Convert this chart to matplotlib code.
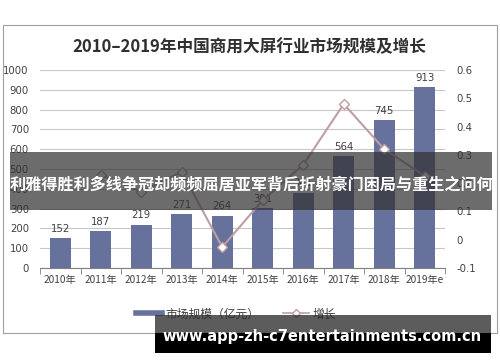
import matplotlib
matplotlib.use("Agg")
import matplotlib.pyplot as plt
from matplotlib.lines import Line2D
from matplotlib.patches import Rectangle

plt.rcParams['font.family'] = ['Noto Sans CJK SC', 'DejaVu Sans']

categories = ["2010年", "2011年", "2012年", "2013年", "2014年", "2015年",
              "2016年", "2017年", "2018年", "2019年e"]
market_size = [152, 187, 219, 271, 264, 301, 381, 564, 745, 913]
growth = [None, 0.23, 0.17, 0.24, -0.026, 0.14, 0.265, 0.48, 0.32, 0.225]
left_ticks = [0, 100, 200, 300, 400, 500, 600, 700, 800, 900, 1000]
right_ticks = [-0.1, 0, 0.1, 0.2, 0.3, 0.4, 0.5, 0.6]
title = "2010–2019年中国商用大屏行业市场规模及增长"
banner = "利雅得胜利多线争冠却频频屈居亚军背后折射豪门困局与重生之问何"
watermark = "www.app-zh-c7entertainments.com.cn"

bar_color = "#67729c"
line_color = "#bf9ea3"
txt = "#404040"

fig = plt.figure(figsize=(5, 3.62), dpi=100)
W, H = 500, 362
def fx(x): return x / W
def fy(y): return 1 - y / H

# outer border
fig.patches.append(Rectangle((fx(3), fy(333)), fx(494), 308 / H, transform=fig.transFigure,
                             fill=False, edgecolor="#a0a0a0", lw=0.8, zorder=0))

ax = fig.add_axes([fx(40), fy(268), fx(405), 198 / H])
x = list(range(len(categories)))
ax.bar(x, market_size, width=0.52, color=bar_color, zorder=2)
for xi, v in zip(x, market_size):
    ax.text(xi, v + 22, str(v), ha="center", va="bottom", fontsize=7.3, color=txt,
            family="DejaVu Sans")
ax.set_ylim(0, 1000)
ax.set_xlim(-0.5, 9.5)
ax.set_yticks(left_ticks)
ax.set_yticklabels([str(t) for t in left_ticks], fontsize=7.3, color=txt, family="DejaVu Sans")
ax.set_xticks(x)
ax.set_xticklabels(categories, fontsize=7.3, color=txt)
ax.tick_params(axis="x", length=0, pad=5)
ax.set_xticks([i - 0.5 for i in range(11)], minor=True)
ax.tick_params(axis="x", which="minor", length=4, color="#808080", direction="out")
ax.tick_params(axis="y", length=0, pad=8)
ax.grid(axis="y", color="#c8c8c8", lw=0.8, zorder=0)
ax.set_axisbelow(True)
for s in ["top", "right", "left"]:
    ax.spines[s].set_visible(False)
ax.spines["bottom"].set_color("#808080")

ax2 = ax.twinx()
gx = [xi for xi, g in zip(x, growth) if g is not None]
gy = [g for g in growth if g is not None]
ax2.plot(gx, gy, color=line_color, lw=1.5, marker="D", markersize=5,
         markerfacecolor="white", markeredgecolor=line_color, zorder=3)
ax2.set_ylim(-0.1, 0.6)
ax2.set_yticks(right_ticks)
ax2.set_yticklabels([f"{t:g}" for t in right_ticks], fontsize=7.3, color=txt, family="DejaVu Sans")
ax2.tick_params(axis="y", length=0, pad=8)
for s in ["top", "right", "left", "bottom"]:
    ax2.spines[s].set_visible(False)

fig.text(fx(249), fy(47), title, ha="center", va="center", fontsize=12,
         fontweight="bold", color="#303030")

handles = [Line2D([0], [0], color=bar_color, lw=4),
           Line2D([0], [0], color=line_color, lw=1.2, marker="D", markersize=4,
                  markerfacecolor="white", markeredgecolor=line_color)]
fig.legend(handles, ["市场规模（亿元）", "增长"], loc="center", ncol=2,
           bbox_to_anchor=(fx(236), fy(314)), frameon=False, fontsize=8.5,
           handlelength=2.2, columnspacing=2.0, handletextpad=0.3, labelcolor=txt)

# banner overlay
fig.patches.append(Rectangle((fx(10), fy(210)), fx(482), 58 / H, transform=fig.transFigure,
                             facecolor=(0.2, 0.2, 0.2, 0.72), edgecolor="none", zorder=10))
fig.text(fx(251), fy(184), banner, ha="center", va="center", fontsize=11.6,
         fontweight="bold", color="white", zorder=11)

# watermark box
fig.patches.append(Rectangle((fx(155), fy(333)), fx(336), 18 / H, transform=fig.transFigure,
                             facecolor=(0.15, 0.15, 0.15, 0.75), edgecolor="none", zorder=10))
fig.patches.append(Rectangle((fx(155), fy(353)), fx(336), 20 / H, transform=fig.transFigure,
                             facecolor="black", edgecolor="none", zorder=10))
fig.text(fx(322), fy(336), watermark, ha="center", va="center", fontsize=10.5,
         fontweight="bold", color="white", family="DejaVu Sans", zorder=11)

fig.savefig("out.png", dpi=100)
